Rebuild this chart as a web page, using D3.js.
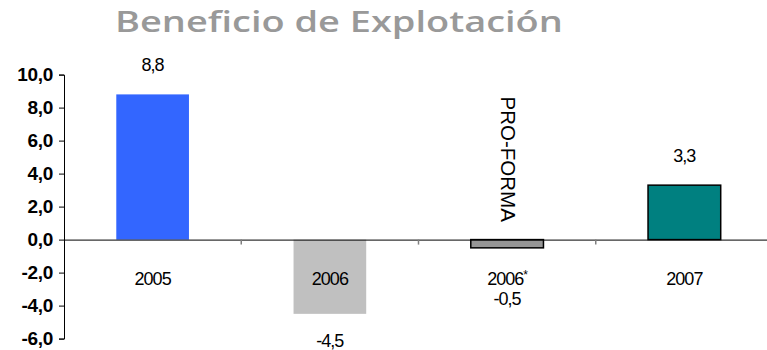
<!DOCTYPE html>
<html><head><meta charset="utf-8">
<script src="https://cdn.jsdelivr.net/npm/d3@7"></script>
<style>body{margin:0;background:#fff;overflow:hidden}svg{display:block}</style>
</head><body>
<script>
const categories = ["2005", "2006", "2006*", "2007"];
const values = [8.8, -4.5, -0.5, 3.3];
const valueLabels = ["8,8", "-4,5", "-0,5", "3,3"];
const yTicks = [-6, -4, -2, 0, 2, 4, 6, 8, 10];
const fills = ["#3366ff", "#c0c0c0", "#969696", "#008080"];
const strokes = ["none", "none", "#000", "#000"];
const title = "Beneficio de Explotación";
const note = "PRO-FORMA";

const W = 767, H = 350;
const svg = d3.select("body").append("svg").attr("width", W).attr("height", H);

const y = d3.scaleLinear().domain([-6, 10]).range([338.6, 74.6]);
const x = d3.scaleBand().domain(categories).range([64, 773]).paddingInner(0).paddingOuter(0);
const barW = x.bandwidth() * 0.41;

const tg = svg.append("g");
const tt = tg.append("text").attr("x", 0).attr("y", 0)
  .attr("font-family", "Open Sans").attr("font-weight", 600)
  .attr("font-size", 28).attr("fill", "#999999").text(title);
const tl = tt.node().getComputedTextLength();
tg.attr("transform", `translate(115,32) scale(${448 / tl},1)`);

// bars
svg.selectAll("rect.bar").data(values).enter().append("rect")
  .attr("x", (d, i) => x(categories[i]) + x.bandwidth() / 2 - barW / 2)
  .attr("y", d => y(Math.max(0, d)))
  .attr("width", barW)
  .attr("height", d => Math.abs(y(d) - y(0)))
  .attr("fill", (d, i) => fills[i])
  .attr("stroke", (d, i) => strokes[i]).attr("stroke-width", 1.5);

// y axis
const yAxis = d3.axisLeft(y).tickValues(yTicks).tickSize(5).tickPadding(6)
  .tickFormat(d => d3.format(".1f")(d).replace(".", ",").replace("−", "-"));
const gy = svg.append("g").attr("transform", "translate(64,0)").call(yAxis);
gy.select(".domain").attr("stroke", "#000");
gy.selectAll("text").attr("font-family", "Liberation Sans").attr("font-weight", "bold")
  .attr("font-size", 19).attr("fill", "#000").attr("letter-spacing", -0.3);

// x axis at zero
const xAxis = d3.axisBottom(x).tickSize(0).tickFormat("");
const gx = svg.append("g").attr("transform", `translate(0,${y(0)})`).call(xAxis);
gx.select(".domain").attr("stroke", "#000");
gx.selectAll(".tick").remove();
// band separators
svg.selectAll("line.sep").data(categories.slice(1)).enter().append("line")
  .attr("x1", d => x(d)).attr("x2", d => x(d))
  .attr("y1", y(0)).attr("y2", y(0) + 5)
  .attr("stroke", "#808080").attr("stroke-width", 1.5);

const txt = (sel) => sel.attr("font-family", "Liberation Sans").attr("font-size", 18)
  .attr("fill", "#000").attr("text-anchor", "middle").attr("letter-spacing", -1);

// category labels
svg.selectAll("text.cat").data(categories).enter().append("text")
  .call(txt)
  .attr("x", d => x(d) + x.bandwidth() / 2)
  .attr("y", y(0) + 45)
  .text(d => d.replace("*", ""))
  .each(function(d) {
    if (d.endsWith("*")) d3.select(this).append("tspan").attr("dy", -6).attr("font-size", 12).text("*");
  });

// value labels
svg.selectAll("text.val").data(values).enter().append("text")
  .call(txt)
  .attr("x", (d, i) => x(categories[i]) + x.bandwidth() / 2)
  .attr("y", (d, i) => d >= 0 ? y(d) - 23 : (i === 2 ? y(0) + 65 : y(d) + 33))
  .text((d, i) => valueLabels[i]);

// PRO-FORMA note
const cx = x("2006*") + x.bandwidth() / 2;
svg.append("text").attr("transform", `translate(${cx - 6},${y(10) + 22}) rotate(90)`)
  .attr("font-family", "Liberation Sans").attr("font-size", 20.5).attr("fill", "#000")
  .attr("text-anchor", "start").text(note);
</script>
</body></html>
